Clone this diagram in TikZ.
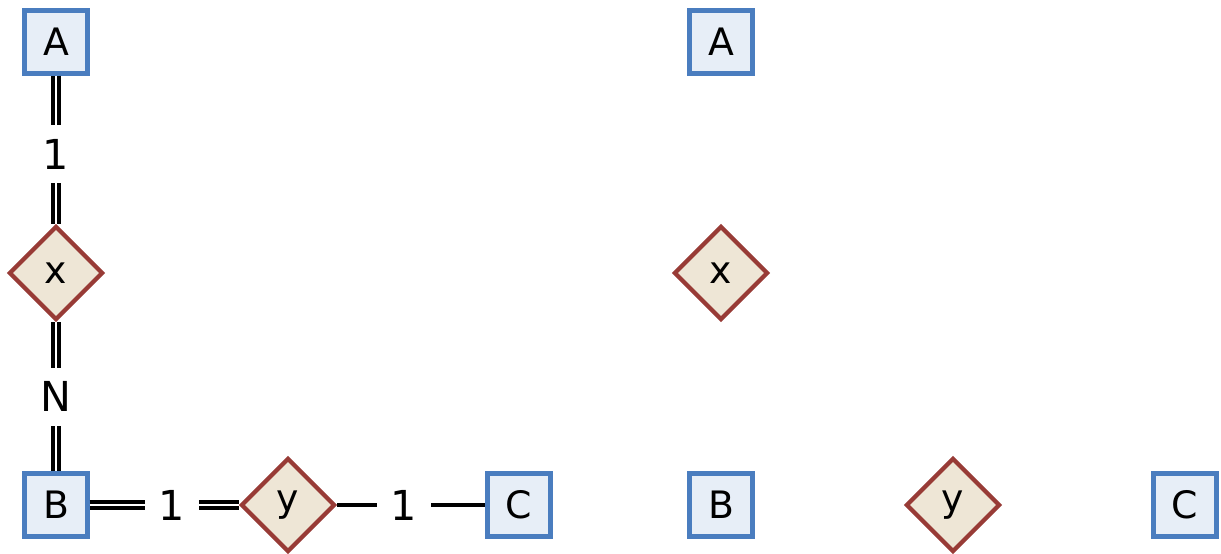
\documentclass[tikz,border=0pt]{standalone}
\usepackage{fontspec}
\setmainfont{DejaVu Sans}
\usetikzlibrary{shapes.geometric}
\definecolor{entborder}{HTML}{4A7DBF}
\definecolor{entfill}{HTML}{E7EEF7}
\definecolor{relborder}{HTML}{983B36}
\definecolor{relfill}{HTML}{EEE6D6}
\begin{document}
\begin{tikzpicture}[
    x=0.02cm, y=-0.02cm,
    entity/.style={rectangle, draw=entborder, fill=entfill, line width=2.4pt,
                   minimum size=1.26cm, inner sep=0pt,
                   font=\fontsize{21.5}{26}\selectfont},
    rel/.style={diamond, draw=relborder, fill=relfill, line width=2.4pt,
                minimum width=1.88cm, minimum height=1.88cm, inner sep=0pt,
                aspect=1, font=\fontsize{21.5}{26}\selectfont},
    card/.style={fill=white, inner sep=8pt, font=\fontsize{23.5}{28}\selectfont},
    total/.style={line width=2pt, double=white, double distance=1.6pt},
    part/.style={line width=2pt}
]
\useasboundingbox (0,0) rectangle (1221,554);
% left: with the links
\node[entity] (a1) at (56, 42) {A};
\node[rel] (x1) at (56, 273) {x};
\node[entity] (b1) at (56, 505) {B};
\node[rel] (y1) at (288, 505) {y};
\node[entity] (c1) at (519, 505) {C};

\draw[total] (a1) -- node[card, pos=0.53] {1} (x1);
\draw[total] (x1) -- node[card] {N} (b1);
\draw[total] (b1) -- node[card, pos=0.55] {1} (y1);
\draw[part] (y1) -- node[card, pos=0.45] {1} (c1);

% right: the same, no links
\node[entity] (a2) at (721, 42) {A};
\node[rel] (x2) at (721, 273) {x};
\node[entity] (b2) at (721, 505) {B};
\node[rel] (y2) at (953, 505) {y};
\node[entity] (c2) at (1185, 505) {C};
\end{tikzpicture}
\end{document}
